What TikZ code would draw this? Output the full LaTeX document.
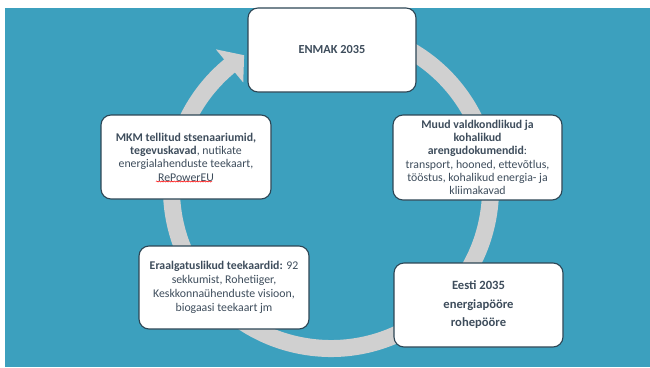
\documentclass[tikz,border=0pt]{standalone}
\usepackage{fontspec}
\setmainfont{Carlito}
\usetikzlibrary{decorations.pathmorphing,calc}
\definecolor{bgblue}{RGB}{60,160,190}
\definecolor{bandgrey}{RGB}{208,208,208}
\definecolor{txt}{RGB}{62,77,92}
\definecolor{edgec}{RGB}{45,70,85}
\begin{document}
\begin{tikzpicture}[x=1pt,y=-1pt,
  box/.style={draw=edgec, line width=1.1pt, fill=white, rounded corners=10pt,
    align=center, text=txt, inner sep=0pt, minimum height=84pt,
    font=\fontsize{11.8}{13.3}\selectfont},
  bandline/.style={bandgrey, line width=17pt},
  spell/.style={red, line width=0.5pt, decorate,
    decoration={snake, amplitude=0.6pt, segment length=2.5pt}}
]
\useasboundingbox (0,0) rectangle (650,367);
\fill[bgblue] (5,8) rectangle (650,367);
% circular arrow
\coordinate (c) at (331,189);
\draw[bandline] ($(c)+(-80:159.5)$) arc[start angle=-80, end angle=231, radius=159.5];
\fill[bandgrey] ($(c)+(230.5:181)$) -- ($(c)+(237:159.5)$) -- ($(c)+(230.5:138)$) -- cycle;
% boxes
\node[box, minimum width=168pt, font=\fontsize{12.3}{14}\selectfont] (enmak) at (332,50) {\textbf{ENMAK 2035}};
\node[box, minimum width=170pt] (mkm) at (186,157)
  {\textbf{MKM tellitud stsenaariumid,}\\ \textbf{tegevuskavad}, nutikate\\ energialahenduste teekaart,\\ RePowerEU};
\node[box, minimum width=169pt, minimum height=85pt] (muud) at (477.5,157.5)
  {\textbf{Muud valdkondlikud ja}\\ \textbf{kohalikud}\\ \textbf{arengudokumendid}:\\ transport, hooned, ettevõtlus,\\ tööstus, kohalikud energia- ja\\ kliimakavad};
\node[box, minimum width=170pt, minimum height=83pt, font=\fontsize{11.8}{14}\selectfont] (era) at (224,287.5)
  {\textbf{Eraalgatuslikud teekaardid:} 92\\ sekkumist, Rohetiiger,\\ Keskkonnaühenduste visioon,\\ biogaasi teekaart jm};
\node[box, minimum width=169pt, font=\fontsize{12.6}{18.5}\selectfont] (eesti) at (478.5,305)
  {\textbf{Eesti 2035}\\ \textbf{energiapööre}\\ \textbf{rohepööre}};
% spell-check underline
\draw[spell] ($(mkm.center)+(-30,24.5)$) -- ($(mkm.center)+(26,24.5)$);
\end{tikzpicture}
\end{document}
